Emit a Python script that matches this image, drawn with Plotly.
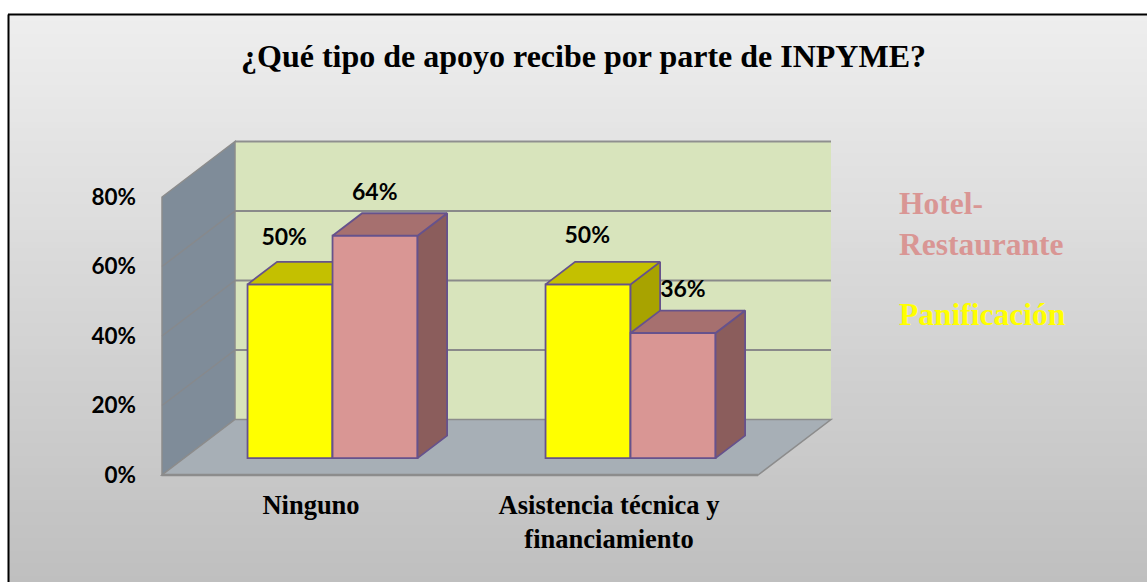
import plotly.graph_objects as go

# ---- data ----
title_text = "¿Qué tipo de apoyo recibe por parte de INPYME?"
categories = ["Ninguno", "Asistencia técnica y<br>financiamiento"]
panificacion = [50, 50]
hotel_restaurante = [64, 36]
y_ticks = [0, 20, 40, 60, 80]
y_labels = ["0%", "20%", "40%", "60%", "80%"]
series_names = ["Hotel-<br>Restaurante", "Panificación"]

# ---- geometry in axis units ----
W, H = 1147, 582
PX_X = 298.0     # px per category
PX_Y = 3.475     # px per percent
X0_PX = 311.0    # px of category 0
Y0_PX = 475.0    # px of 0 %
x_range = [-X0_PX / PX_X, (W - X0_PX) / PX_X]
y_range = [-(H - Y0_PX) / PX_Y, Y0_PX / PX_Y]

# oblique depth vector of the whole floor (in units)
DX, DY = 73.0 / PX_X, 55.5 / PX_Y
D_TOP = 80.0
bar_w = 85.0 / PX_X
d_front, d_back = 0.295, 0.70   # bar depth span, floor fraction

def proj(x, y, d):
    return x + DX * d, y + DY * d

XL, XR = -0.5, 1.5
fig = go.Figure()

# background gradient
shapes = []
top_px, n = 15, 90
c0, c1 = (238, 238, 238), (191, 191, 191)
for i in range(n):
    t = i / (n - 1)
    c = tuple(round(a + (b - a) * t) for a, b in zip(c0, c1))
    y_a = top_px + (H - top_px) * i / n
    y_b = top_px + (H - top_px) * (i + 1) / n + 1
    shapes.append(dict(type="rect", xref="paper", yref="paper", layer="below",
                       x0=9 / W, x1=1, y0=1 - y_a / H, y1=max(0, 1 - y_b / H),
                       fillcolor=f"rgb{c}", line=dict(width=0)))

def poly(points, fill, line="#8c8c8c", lw=1.5):
    path = "M " + " L ".join(f"{x},{y}" for x, y in points) + " Z"
    return dict(type="path", path=path, xref="x", yref="y", layer="below",
                fillcolor=fill, line=dict(color=line, width=lw))

def seg(a, b, color="#8a8a8a", lw=2):
    return dict(type="line", xref="x", yref="y", layer="below",
                x0=a[0], y0=a[1], x1=b[0], y1=b[1], line=dict(color=color, width=lw))

# back wall, side wall and floor
shapes.append(poly([proj(XL, 0, 1), proj(XR, 0, 1), proj(XR, D_TOP, 1), proj(XL, D_TOP, 1)],
                   "#d8e4bc", line="rgba(0,0,0,0)", lw=0))
shapes.append(seg(proj(XL, D_TOP, 1), proj(XR, D_TOP, 1), "#8f8f8f", 2))
shapes.append(poly([proj(XL, 0, 0), proj(XL, 0, 1), proj(XL, D_TOP, 1), proj(XL, D_TOP, 0)], "#7f8c99"))
shapes.append(poly([proj(XL, 0, 0), proj(XR, 0, 0), proj(XR, 0, 1), proj(XL, 0, 1)], "#a7afb6"))
for t in y_ticks[1:-1]:
    shapes.append(seg(proj(XL, t, 0), proj(XL, t, 1), "#87898c", 1.5))
    shapes.append(seg(proj(XL, t, 1), proj(XR, t, 1), "#8a8a8a", 2))
shapes.append(seg(proj(XL, 0, 0), proj(XR, 0, 0), "#8c8c8c", 2.5))

# bars
EDGE = "#66528c"
centers = list(range(len(categories)))

def add_series(vals, offset, front, top, side, xa, ya):
    lift = DY * d_front + 0.15
    xs = [c + DX * d_front + offset for c in centers]
    for c_x, v in zip(xs, vals):
        xl, xr = c_x - bar_w / 2, c_x + bar_w / 2
        dd = d_back - d_front
        top_pts = [(xl, lift + v), (xr, lift + v),
                   (xr + DX * dd, lift + v + DY * dd), (xl + DX * dd, lift + v + DY * dd)]
        side_pts = [(xr, lift), (xr + DX * dd, lift + DY * dd),
                    (xr + DX * dd, lift + v + DY * dd), (xr, lift + v)]
        for pts, col in ((side_pts, side), (top_pts, top)):
            fig.add_trace(go.Scatter(x=[p[0] for p in pts] + [pts[0][0]],
                                     y=[p[1] for p in pts] + [pts[0][1]],
                                     mode="lines", fill="toself", fillcolor=col,
                                     line=dict(color=EDGE, width=1.8),
                                     hoverinfo="skip", showlegend=False, xaxis=xa, yaxis=ya))
    fig.add_trace(go.Bar(x=xs, y=vals, base=[lift] * len(vals), width=bar_w,
                         marker=dict(color=front, line=dict(color=EDGE, width=1.8)),
                         showlegend=False, xaxis=xa, yaxis=ya))

add_series(panificacion, -bar_w / 2, "#ffff00", "#c4c000", "#a8a300", "x", "y")
add_series(hotel_restaurante, bar_w / 2, "#d99694", "#a6706f", "#8b5d5c", "x2", "y2")

# data labels, placed by hand in the original chart
lab_dx = [[-0.09, -0.073], [0.214, 0.248]]
lab_dy = [[17.8, 18.4], [16.8, 16.8]]
for j, vals in enumerate((panificacion, hotel_restaurante)):
    fig.add_trace(go.Scatter(
        x=[c + lab_dx[j][i] for i, c in enumerate(centers)],
        y=[v + lab_dy[j][i] for i, v in enumerate(vals)],
        mode="text", text=[f"<b>{v}%</b>" for v in vals], textposition="middle center",
        textfont=dict(family="Lato", size=23, color="black"),
        hoverinfo="skip", showlegend=False, xaxis="x2", yaxis="y2"))

# legend as coloured text
legend_cols = ["#d99694", "#ffff00"]
legend_y = [224, 314]
annots = [dict(text=f"<b>{title_text}</b>", xref="paper", yref="paper", x=583.5 / W, y=1 - 56 / H,
               showarrow=False, xanchor="center", yanchor="middle",
               font=dict(family="Liberation Serif", size=32, color="black"))]
for name, col, yp in zip(series_names, legend_cols, legend_y):
    annots.append(dict(text=f"<b>{name}</b>", xref="paper", yref="paper", x=897 / W, y=1 - yp / H,
                       showarrow=False, xanchor="left", yanchor="middle", align="left",
                       font=dict(family="Liberation Serif", size=31.5, color=col)))

fig.update_layout(
    width=W, height=H, margin=dict(l=0, r=0, t=0, b=0), autosize=False,
    paper_bgcolor="white", plot_bgcolor="rgba(0,0,0,0)", barmode="overlay",
    shapes=shapes, annotations=annots,
    xaxis=dict(range=x_range, anchor="free", position=(H - Y0_PX) / H, domain=[0, 1],
               tickmode="array", tickvals=centers, ticktext=[f"<b>{c}</b>" for c in categories],
               tickfont=dict(family="Liberation Serif", size=26.5, color="black"),
               showgrid=False, zeroline=False, showline=False, ticks="", ticklabelstandoff=11),
    yaxis=dict(range=y_range, anchor="free", position=X0_PX / W - 149 / W, domain=[0, 1],
               tickmode="array", tickvals=y_ticks, ticktext=[f"<b>{s}</b>" for s in y_labels],
               tickfont=dict(family="Lato", size=22.5, color="black"),
               showgrid=False, zeroline=False, showline=False, ticks="", ticklabelstandoff=26),
    xaxis2=dict(range=x_range, overlaying="x", visible=False),
    yaxis2=dict(range=y_range, overlaying="y", visible=False),
)
# frame
fig.add_shape(type="line", xref="paper", yref="paper", x0=8.5 / W, x1=8.5 / W, y0=0, y1=1 - 14.5 / H,
              line=dict(color="black", width=2))
fig.add_shape(type="line", xref="paper", yref="paper", x0=8 / W, x1=1, y0=1 - 14.5 / H, y1=1 - 14.5 / H,
              line=dict(color="black", width=2))

fig.write_html("out.html", config={"displayModeBar": False},
               post_script="document.body.style.margin='0';document.documentElement.style.overflow='hidden';")
